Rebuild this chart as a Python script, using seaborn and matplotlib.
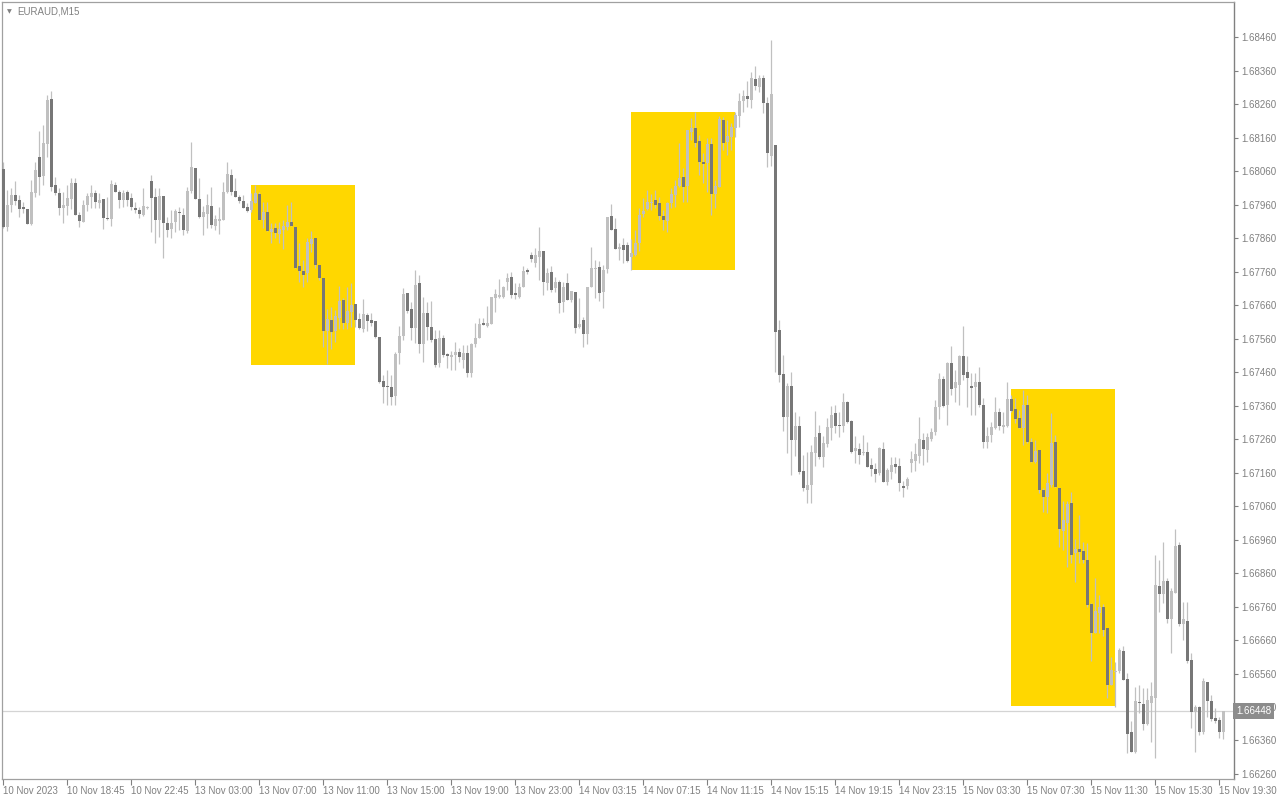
import numpy as np
import pandas as pd
import matplotlib
matplotlib.use("Agg")
import matplotlib.pyplot as plt
import matplotlib.transforms as mtransforms
from matplotlib.patches import Rectangle
import seaborn as sns

symbol = "EURAUD,M15"

opens = [
    1.68066, 1.67892, 1.67958, 1.67988, 1.67973, 1.67952, 1.67946, 1.67901, 1.67994, 1.68101,
    1.68045, 1.68140, 1.68274, 1.68018, 1.67994, 1.67949, 1.67955, 1.67976, 1.68024, 1.67928,
    1.67907, 1.67958, 1.67982, 1.67994, 1.67964, 1.67976, 1.67919, 1.67916, 1.68018, 1.67997,
    1.67973, 1.67997, 1.67979, 1.67949, 1.67943, 1.67928, 1.67949, 1.68030, 1.67982, 1.67913,
    1.67985, 1.67904, 1.67886, 1.67907, 1.67937, 1.67928, 1.67880, 1.68000, 1.68069, 1.67976,
    1.67922, 1.67931, 1.67955, 1.67895, 1.67910, 1.67913, 1.67997, 1.68048, 1.68000, 1.67982,
    1.67970, 1.67952, 1.67943, 1.67964, 1.67991, 1.67913, 1.67937, 1.67877, 1.67889, 1.67872,
    1.67883, 1.67892, 1.67907, 1.67892, 1.67776, 1.67761, 1.67755, 1.67842, 1.67860, 1.67779,
    1.67740, 1.67582, 1.67615, 1.67582, 1.67621, 1.67675, 1.67606, 1.67639, 1.67663, 1.67618,
    1.67588, 1.67630, 1.67615, 1.67612, 1.67564, 1.67433, 1.67418, 1.67415, 1.67388, 1.67516,
    1.67567, 1.67695, 1.67648, 1.67591, 1.67725, 1.67543, 1.67636, 1.67594, 1.67558, 1.67487,
    1.67561, 1.67513, 1.67504, 1.67510, 1.67519, 1.67495, 1.67516, 1.67457, 1.67543, 1.67561,
    1.67606, 1.67597, 1.67603, 1.67680, 1.67683, 1.67683, 1.67728, 1.67743, 1.67695, 1.67683,
    1.67713, 1.67764, 1.67809, 1.67785, 1.67803, 1.67821, 1.67725, 1.67758, 1.67710, 1.67728,
    1.67669, 1.67725, 1.67675, 1.67698, 1.67594, 1.67615, 1.67573, 1.67713, 1.67767, 1.67773,
    1.67698, 1.67767, 1.67925, 1.67886, 1.67827, 1.67839, 1.67839, 1.67803, 1.67809, 1.67845,
    1.67931, 1.67946, 1.67964, 1.67973, 1.67964, 1.67925, 1.67910, 1.67964, 1.67988, 1.68015,
    1.68042, 1.68015, 1.68176, 1.68188, 1.68149, 1.68086, 1.68083, 1.68140, 1.67991, 1.68012,
    1.68212, 1.68146, 1.68161, 1.68188, 1.68224, 1.68269, 1.68283, 1.68272, 1.68334, 1.68310,
    1.68337, 1.68263, 1.68104, 1.68137, 1.67585, 1.67454, 1.67325, 1.67418, 1.67257, 1.67298,
    1.67164, 1.67107, 1.67122, 1.67218, 1.67277, 1.67206, 1.67245, 1.67292, 1.67337, 1.67301,
    1.67298, 1.67370, 1.67313, 1.67224, 1.67230, 1.67218, 1.67221, 1.67182, 1.67170, 1.67158,
    1.67230, 1.67131, 1.67161, 1.67185, 1.67179, 1.67119, 1.67119, 1.67188, 1.67194, 1.67209,
    1.67257, 1.67227, 1.67260, 1.67280, 1.67355, 1.67439, 1.67361, 1.67486, 1.67412, 1.67421,
    1.67507, 1.67460, 1.67418, 1.67415, 1.67430, 1.67361, 1.67251, 1.67272, 1.67292, 1.67340,
    1.67295, 1.67298, 1.67379, 1.67349, 1.67322, 1.67292, 1.67361, 1.67251, 1.67191, 1.67227,
    1.67107, 1.67086, 1.67122, 1.67251, 1.67113, 1.66985, 1.67009, 1.67069, 1.66920, 1.66932,
    1.66926, 1.66898, 1.66767, 1.66680, 1.66740, 1.66758, 1.66695, 1.66525, 1.66564, 1.66567,
    1.66627, 1.66543, 1.66385, 1.66325, 1.66474, 1.66468, 1.66409, 1.66471, 1.66486, 1.66821,
    1.66797, 1.66836, 1.66722, 1.66800, 1.66943, 1.66707, 1.66716, 1.66600, 1.66445, 1.66460,
    1.66385, 1.66534, 1.66477, 1.66427, 1.66421, 1.66385,
]

highs = [
    1.68086, 1.68003, 1.68009, 1.68030, 1.67988, 1.67967, 1.67946, 1.68033, 1.68086, 1.68179,
    1.68197, 1.68286, 1.68298, 1.68042, 1.68009, 1.67997, 1.68018, 1.68039, 1.68039, 1.67937,
    1.67973, 1.67994, 1.68018, 1.68003, 1.67994, 1.67976, 1.67982, 1.68033, 1.68027, 1.68003,
    1.68003, 1.68003, 1.67994, 1.67967, 1.67952, 1.68009, 1.67955, 1.68048, 1.68009, 1.68009,
    1.67985, 1.67922, 1.67943, 1.67946, 1.67952, 1.67949, 1.68012, 1.68146, 1.68069, 1.68039,
    1.67955, 1.67991, 1.68012, 1.67928, 1.67952, 1.68027, 1.68086, 1.68066, 1.68039, 1.67988,
    1.67988, 1.67964, 1.67994, 1.68018, 1.67997, 1.67967, 1.67967, 1.67904, 1.67904, 1.67907,
    1.67913, 1.67958, 1.67967, 1.67892, 1.67845, 1.67794, 1.67860, 1.67880, 1.67860, 1.67779,
    1.67740, 1.67648, 1.67654, 1.67645, 1.67716, 1.67680, 1.67713, 1.67725, 1.67663, 1.67636,
    1.67678, 1.67636, 1.67636, 1.67612, 1.67564, 1.67451, 1.67466, 1.67451, 1.67519, 1.67597,
    1.67710, 1.67695, 1.67669, 1.67764, 1.67749, 1.67683, 1.67669, 1.67672, 1.67585, 1.67585,
    1.67570, 1.67516, 1.67522, 1.67549, 1.67531, 1.67540, 1.67540, 1.67546, 1.67606, 1.67621,
    1.67621, 1.67657, 1.67683, 1.67707, 1.67737, 1.67716, 1.67755, 1.67758, 1.67725, 1.67725,
    1.67776, 1.67770, 1.67818, 1.67830, 1.67892, 1.67821, 1.67770, 1.67776, 1.67743, 1.67734,
    1.67728, 1.67755, 1.67701, 1.67698, 1.67680, 1.67624, 1.67713, 1.67833, 1.67794, 1.67791,
    1.67779, 1.67922, 1.67961, 1.67919, 1.67845, 1.67860, 1.67848, 1.67857, 1.67883, 1.67949,
    1.67979, 1.68003, 1.67991, 1.68003, 1.67982, 1.67943, 1.67967, 1.68009, 1.68033, 1.68143,
    1.68069, 1.68182, 1.68218, 1.68236, 1.68167, 1.68113, 1.68158, 1.68158, 1.68033, 1.68224,
    1.68221, 1.68212, 1.68203, 1.68236, 1.68292, 1.68301, 1.68328, 1.68355, 1.68373, 1.68346,
    1.68346, 1.68280, 1.68451, 1.68137, 1.67615, 1.67510, 1.67427, 1.67460, 1.67340, 1.67328,
    1.67212, 1.67221, 1.67242, 1.67343, 1.67301, 1.67269, 1.67322, 1.67358, 1.67361, 1.67340,
    1.67397, 1.67373, 1.67316, 1.67269, 1.67248, 1.67272, 1.67251, 1.67203, 1.67188, 1.67236,
    1.67251, 1.67173, 1.67206, 1.67206, 1.67203, 1.67134, 1.67146, 1.67224, 1.67248, 1.67325,
    1.67277, 1.67277, 1.67292, 1.67376, 1.67457, 1.67448, 1.67489, 1.67537, 1.67466, 1.67510,
    1.67597, 1.67507, 1.67457, 1.67457, 1.67475, 1.67382, 1.67295, 1.67310, 1.67385, 1.67352,
    1.67340, 1.67430, 1.67391, 1.67382, 1.67346, 1.67406, 1.67391, 1.67263, 1.67257, 1.67227,
    1.67113, 1.67158, 1.67337, 1.67272, 1.67113, 1.67076, 1.67076, 1.67101, 1.66961, 1.67033,
    1.66952, 1.66949, 1.66770, 1.66845, 1.66794, 1.66767, 1.66695, 1.66609, 1.66594, 1.66636,
    1.66642, 1.66561, 1.66418, 1.66519, 1.66525, 1.66516, 1.66516, 1.66534, 1.66913, 1.66898,
    1.66952, 1.66845, 1.66815, 1.66991, 1.66952, 1.66773, 1.66773, 1.66621, 1.66466, 1.66463,
    1.66546, 1.66534, 1.66495, 1.66457, 1.66430, 1.66448,
]

lows = [
    1.67889, 1.67880, 1.67937, 1.67958, 1.67922, 1.67934, 1.67901, 1.67898, 1.67982, 1.67988,
    1.68018, 1.68101, 1.68000, 1.67988, 1.67928, 1.67904, 1.67928, 1.67946, 1.67928, 1.67892,
    1.67907, 1.67940, 1.67949, 1.67949, 1.67949, 1.67886, 1.67913, 1.67895, 1.67997, 1.67949,
    1.67952, 1.67955, 1.67943, 1.67934, 1.67919, 1.67925, 1.67946, 1.67877, 1.67845, 1.67863,
    1.67800, 1.67863, 1.67860, 1.67877, 1.67883, 1.67869, 1.67874, 1.67994, 1.67976, 1.67919,
    1.67869, 1.67889, 1.67889, 1.67883, 1.67872, 1.67913, 1.67994, 1.67988, 1.67982, 1.67964,
    1.67949, 1.67937, 1.67937, 1.67964, 1.67913, 1.67889, 1.67880, 1.67845, 1.67860, 1.67845,
    1.67827, 1.67883, 1.67895, 1.67770, 1.67728, 1.67713, 1.67728, 1.67818, 1.67770, 1.67734,
    1.67534, 1.67483, 1.67528, 1.67549, 1.67588, 1.67588, 1.67588, 1.67594, 1.67594, 1.67588,
    1.67579, 1.67582, 1.67597, 1.67561, 1.67427, 1.67367, 1.67361, 1.67361, 1.67361, 1.67483,
    1.67555, 1.67636, 1.67555, 1.67546, 1.67516, 1.67489, 1.67555, 1.67549, 1.67475, 1.67475,
    1.67504, 1.67472, 1.67466, 1.67466, 1.67489, 1.67472, 1.67445, 1.67445, 1.67534, 1.67561,
    1.67600, 1.67594, 1.67603, 1.67639, 1.67680, 1.67680, 1.67704, 1.67680, 1.67678, 1.67680,
    1.67713, 1.67752, 1.67788, 1.67773, 1.67734, 1.67689, 1.67704, 1.67698, 1.67698, 1.67636,
    1.67639, 1.67675, 1.67669, 1.67576, 1.67591, 1.67534, 1.67543, 1.67713, 1.67680, 1.67672,
    1.67651, 1.67755, 1.67883, 1.67827, 1.67794, 1.67785, 1.67788, 1.67764, 1.67806, 1.67821,
    1.67922, 1.67943, 1.67943, 1.67949, 1.67913, 1.67883, 1.67877, 1.67949, 1.67952, 1.68012,
    1.67967, 1.67967, 1.68152, 1.68131, 1.68048, 1.68024, 1.67997, 1.67928, 1.67949, 1.68012,
    1.68122, 1.68107, 1.68122, 1.68161, 1.68191, 1.68236, 1.68251, 1.68248, 1.68301, 1.68295,
    1.68233, 1.68072, 1.68074, 1.67460, 1.67430, 1.67283, 1.67218, 1.67152, 1.67209, 1.67155,
    1.67104, 1.67069, 1.67069, 1.67179, 1.67200, 1.67176, 1.67236, 1.67257, 1.67277, 1.67266,
    1.67280, 1.67307, 1.67218, 1.67188, 1.67185, 1.67212, 1.67176, 1.67149, 1.67131, 1.67152,
    1.67131, 1.67122, 1.67140, 1.67158, 1.67104, 1.67086, 1.67110, 1.67161, 1.67164, 1.67188,
    1.67182, 1.67191, 1.67254, 1.67272, 1.67319, 1.67355, 1.67301, 1.67391, 1.67370, 1.67361,
    1.67436, 1.67355, 1.67331, 1.67331, 1.67355, 1.67233, 1.67233, 1.67251, 1.67289, 1.67286,
    1.67277, 1.67295, 1.67340, 1.67307, 1.67292, 1.67242, 1.67248, 1.67191, 1.67188, 1.67098,
    1.67042, 1.67039, 1.67116, 1.67116, 1.66937, 1.66928, 1.66878, 1.66890, 1.66833, 1.66890,
    1.66890, 1.66758, 1.66597, 1.66680, 1.66680, 1.66672, 1.66486, 1.66525, 1.66460, 1.66561,
    1.66540, 1.66322, 1.66325, 1.66322, 1.66442, 1.66391, 1.66406, 1.66355, 1.66307, 1.66743,
    1.66770, 1.66710, 1.66621, 1.66800, 1.66701, 1.66660, 1.66591, 1.66397, 1.66325, 1.66376,
    1.66379, 1.66430, 1.66418, 1.66412, 1.66367, 1.66364,
]

closes = [
    1.67892, 1.67958, 1.67988, 1.67970, 1.67946, 1.67946, 1.67901, 1.67997, 1.68063, 1.68042,
    1.68143, 1.68272, 1.68012, 1.67994, 1.67949, 1.67958, 1.67979, 1.68024, 1.67928, 1.67910,
    1.67958, 1.67985, 1.67994, 1.67967, 1.67973, 1.67919, 1.67916, 1.68021, 1.67997, 1.67973,
    1.67994, 1.67973, 1.67952, 1.67943, 1.67931, 1.67955, 1.67952, 1.67979, 1.67913, 1.67985,
    1.67904, 1.67883, 1.67904, 1.67940, 1.67934, 1.67883, 1.68000, 1.68072, 1.67976, 1.67922,
    1.67937, 1.67958, 1.67898, 1.67916, 1.67916, 1.67997, 1.68051, 1.67997, 1.67982, 1.67970,
    1.67949, 1.67940, 1.67970, 1.67994, 1.67913, 1.67937, 1.67880, 1.67886, 1.67874, 1.67886,
    1.67895, 1.67907, 1.67895, 1.67770, 1.67761, 1.67749, 1.67848, 1.67857, 1.67779, 1.67740,
    1.67582, 1.67618, 1.67579, 1.67627, 1.67672, 1.67606, 1.67642, 1.67660, 1.67615, 1.67591,
    1.67633, 1.67612, 1.67606, 1.67564, 1.67430, 1.67415, 1.67415, 1.67385, 1.67513, 1.67567,
    1.67692, 1.67642, 1.67591, 1.67719, 1.67543, 1.67636, 1.67594, 1.67555, 1.67481, 1.67561,
    1.67510, 1.67507, 1.67510, 1.67519, 1.67504, 1.67516, 1.67457, 1.67543, 1.67561, 1.67603,
    1.67600, 1.67606, 1.67683, 1.67692, 1.67689, 1.67713, 1.67740, 1.67689, 1.67689, 1.67713,
    1.67761, 1.67758, 1.67797, 1.67809, 1.67821, 1.67728, 1.67755, 1.67704, 1.67728, 1.67666,
    1.67713, 1.67675, 1.67701, 1.67591, 1.67603, 1.67573, 1.67713, 1.67770, 1.67770, 1.67695,
    1.67764, 1.67922, 1.67883, 1.67827, 1.67833, 1.67824, 1.67791, 1.67815, 1.67845, 1.67928,
    1.67940, 1.67967, 1.67967, 1.67958, 1.67925, 1.67913, 1.67964, 1.67991, 1.68015, 1.68039,
    1.68012, 1.68182, 1.68188, 1.68143, 1.68086, 1.68080, 1.68140, 1.67991, 1.68015, 1.68215,
    1.68143, 1.68164, 1.68191, 1.68227, 1.68269, 1.68283, 1.68274, 1.68337, 1.68313, 1.68337,
    1.68263, 1.68113, 1.68289, 1.67579, 1.67451, 1.67325, 1.67418, 1.67257, 1.67298, 1.67161,
    1.67113, 1.67122, 1.67221, 1.67265, 1.67206, 1.67248, 1.67295, 1.67331, 1.67298, 1.67298,
    1.67370, 1.67310, 1.67221, 1.67233, 1.67212, 1.67221, 1.67176, 1.67170, 1.67155, 1.67233,
    1.67131, 1.67167, 1.67182, 1.67176, 1.67128, 1.67113, 1.67140, 1.67200, 1.67215, 1.67260,
    1.67230, 1.67266, 1.67280, 1.67355, 1.67439, 1.67358, 1.67486, 1.67409, 1.67430, 1.67507,
    1.67451, 1.67442, 1.67412, 1.67430, 1.67361, 1.67251, 1.67269, 1.67295, 1.67340, 1.67298,
    1.67301, 1.67379, 1.67343, 1.67319, 1.67292, 1.67361, 1.67251, 1.67191, 1.67224, 1.67107,
    1.67086, 1.67128, 1.67248, 1.67116, 1.66991, 1.67018, 1.67066, 1.66914, 1.66932, 1.66923,
    1.66898, 1.66764, 1.66680, 1.66746, 1.66758, 1.66689, 1.66525, 1.66570, 1.66567, 1.66630,
    1.66540, 1.66379, 1.66325, 1.66477, 1.66471, 1.66409, 1.66481, 1.66492, 1.66824, 1.66797,
    1.66836, 1.66722, 1.66806, 1.66940, 1.66707, 1.66722, 1.66597, 1.66445, 1.66460, 1.66385,
    1.66537, 1.66477, 1.66424, 1.66418, 1.66385, 1.66448,
]

time_labels = [
    "10 Nov 2023", "10 Nov 18:45", "10 Nov 22:45", "13 Nov 03:00", "13 Nov 07:00",
    "13 Nov 11:00", "13 Nov 15:00", "13 Nov 19:00", "13 Nov 23:00", "14 Nov 03:15",
    "14 Nov 07:15", "14 Nov 11:15", "14 Nov 15:15", "14 Nov 19:15", "14 Nov 23:15",
    "15 Nov 03:30", "15 Nov 07:30", "15 Nov 11:30", "15 Nov 15:30", "15 Nov 19:30",
]
bars_per_label = 16

price_ticks = [
    1.66260, 1.66360, 1.66460, 1.66560, 1.66660, 1.66760, 1.66860, 1.66960,
    1.67060, 1.67160, 1.67260, 1.67360, 1.67460, 1.67560, 1.67660, 1.67760,
    1.67860, 1.67960, 1.68060, 1.68160, 1.68260, 1.68360, 1.68460,
]

# highlighted zones: first/last bar and price range
zone_first = [62, 157, 252]
zone_last = [88, 183, 278]
zone_low = [1.67481, 1.67764, 1.66463]
zone_high = [1.68018, 1.68236, 1.67409]

UP = "#c0c0c0"
DOWN = "#777777"
GRID_TXT = "#808080"

df = pd.DataFrame({"open": opens, "high": highs, "low": lows, "close": closes})
df["bar"] = np.arange(len(df))
df["up"] = df["close"] >= df["open"]

sns.set_style("ticks")
plt.rcParams["font.family"] = ["Liberation Sans", "DejaVu Sans"]

fig = plt.figure(figsize=(12.8, 8), dpi=100, facecolor="white")
ax = fig.add_axes([2 / 1280, 21 / 800, 1232 / 1280, 777 / 800])
ax.set_facecolor("white")

for first, last, lo, hi in zip(zone_first, zone_last, zone_low, zone_high):
    ax.add_patch(Rectangle((first, lo), last - first, hi - lo,
                           facecolor="#FFD700", edgecolor="none", zorder=1))

last_price = closes[-1]
ax.axhline(last_price, color="#d4d4d4", lw=0.9, zorder=1.5)

ax.vlines(df["bar"], df["low"], df["high"], color=UP, lw=0.9, zorder=2)
body = (df["close"] - df["open"]).abs().clip(lower=0.00003)
bottom = df[["open", "close"]].min(axis=1)
ax.bar(df["bar"], body, bottom=bottom, width=0.75,
       color=np.where(df["up"], UP, DOWN), linewidth=0, zorder=3)

ax.set_xlim(-0.33, 307.7)
ax.set_ylim(1.66245, 1.68565)

ax.yaxis.tick_right()
ax.set_yticks(price_ticks)
ax.set_yticklabels([f"{v:.5f}" for v in price_ticks])
ax.set_xticks(np.arange(0, len(df), bars_per_label)[:len(time_labels)])
ax.set_xticklabels(time_labels, ha="left")
ax.tick_params(axis="y", right=True, left=False, length=3, width=0.8,
               color=GRID_TXT, labelcolor=GRID_TXT, labelsize=7, pad=2)
ax.tick_params(axis="x", bottom=True, length=4, width=0.8,
               color=GRID_TXT, labelcolor=GRID_TXT, labelsize=7, pad=1)
for side in ["left", "top", "bottom"]:
    ax.spines[side].set_color("#a0a0a0")
    ax.spines[side].set_linewidth(0.9)
ax.spines["right"].set_color("#808080")
ax.spines["right"].set_linewidth(1.0)

ax.text(0.004, 0.988, "\u25bc", transform=ax.transAxes, fontsize=4.5,
        color=GRID_TXT, va="center", ha="left", family="DejaVu Sans")
ax.text(0.0125, 0.988, symbol, transform=ax.transAxes, fontsize=7,
        color=GRID_TXT, va="center", ha="left")

# current price marker on the price scale (sits over the nearby scale label)
trans = mtransforms.blended_transform_factory(ax.transAxes, ax.transData)
ax.text(1.0016, last_price, f"{last_price:.5f}", transform=trans, fontsize=7,
        color="white", va="center", ha="left", clip_on=False, zorder=10,
        bbox=dict(boxstyle="square,pad=0.3", facecolor="#8c8c8c", edgecolor="none"))

fig.savefig("out.png", dpi=100, facecolor="white")
